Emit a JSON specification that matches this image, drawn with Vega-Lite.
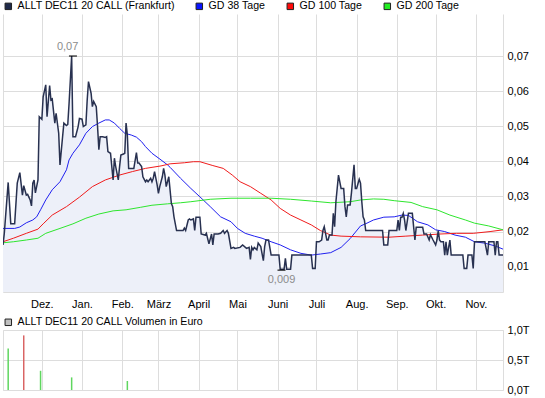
{
  "$schema": "https://vega.github.io/schema/vega-lite/v6.json",
  "background": "white",
  "padding": {"left": 0, "top": 1, "right": 0, "bottom": 0},
  "config": {
    "font": "Liberation Sans",
    "view": {"stroke": null},
    "axis": {"labelFont": "Liberation Sans", "labelFontSize": 11, "labelColor": "#000000", "gridColor": "#dddddd", "gridOpacity": 1, "gridWidth": 1, "domain": false, "ticks": false, "title": null, "labelOverlap": false, "labelFlush": false, "labelBound": false},
    "legend": {"orient": "none", "legendX": 0, "legendY": -13, "direction": "horizontal", "title": null, "symbolType": "square", "symbolSize": 42, "symbolStrokeColor": "#222222", "symbolStrokeWidth": 1, "symbolOpacity": 1, "labelFont": "Liberation Sans", "labelFontSize": 10.6, "labelColor": "#000000", "labelOffset": 4, "labelLimit": 400, "columnPadding": 19, "padding": 0}
  },
  "datasets": {
    "price": [
      {"d":"2010-11-01","v":0.0162},{"d":"2010-11-02","v":0.0195},{"d":"2010-11-05","v":0.034},{"d":"2010-11-07","v":0.0222},{"d":"2010-11-10","v":0.0222},{"d":"2010-11-12","v":0.0338},{"d":"2010-11-14","v":0.0368},{"d":"2010-11-16","v":0.0304},{"d":"2010-11-17","v":0.0331},{"d":"2010-11-19","v":0.0304},{"d":"2010-11-20","v":0.0306},{"d":"2010-11-22","v":0.029},{"d":"2010-11-23","v":0.0273},{"d":"2010-11-24","v":0.0338},{"d":"2010-11-25","v":0.0347},{"d":"2010-11-26","v":0.031},{"d":"2010-11-28","v":0.0347},{"d":"2010-11-29","v":0.0527},
      {"d":"2010-12-01","v":0.052},{"d":"2010-12-02","v":0.0584},{"d":"2010-12-04","v":0.0618},{"d":"2010-12-05","v":0.0527},{"d":"2010-12-07","v":0.0616},{"d":"2010-12-08","v":0.0575},{"d":"2010-12-09","v":0.0578},{"d":"2010-12-11","v":0.0509},{"d":"2010-12-12","v":0.0537},{"d":"2010-12-14","v":0.048},{"d":"2010-12-15","v":0.039},{"d":"2010-12-17","v":0.047},{"d":"2010-12-18","v":0.0509},{"d":"2010-12-20","v":0.0502},{"d":"2010-12-21","v":0.0505},{"d":"2010-12-22","v":0.0565},{"d":"2010-12-24","v":0.07},{"d":"2010-12-25","v":0.047},{"d":"2010-12-27","v":0.047},{"d":"2010-12-29","v":0.0499},{"d":"2010-12-30","v":0.0522},
      {"d":"2011-01-01","v":0.052},{"d":"2011-01-02","v":0.0499},{"d":"2011-01-04","v":0.0504},{"d":"2011-01-05","v":0.0575},{"d":"2011-01-06","v":0.0627},{"d":"2011-01-08","v":0.0594},{"d":"2011-01-09","v":0.0556},{"d":"2011-01-10","v":0.0571},{"d":"2011-01-12","v":0.0556},{"d":"2011-01-13","v":0.0499},{"d":"2011-01-14","v":0.0433},{"d":"2011-01-15","v":0.047},{"d":"2011-01-17","v":0.047},{"d":"2011-01-19","v":0.0468},{"d":"2011-01-20","v":0.047},{"d":"2011-01-21","v":0.0428},{"d":"2011-01-23","v":0.0423},{"d":"2011-01-25","v":0.0347},{"d":"2011-01-26","v":0.0409},{"d":"2011-01-27","v":0.0385},{"d":"2011-01-29","v":0.0347},{"d":"2011-01-30","v":0.0385},{"d":"2011-01-31","v":0.0418},
      {"d":"2011-02-02","v":0.0421},{"d":"2011-02-03","v":0.0423},{"d":"2011-02-04","v":0.0509},{"d":"2011-02-05","v":0.0475},{"d":"2011-02-06","v":0.038},{"d":"2011-02-08","v":0.038},{"d":"2011-02-10","v":0.038},{"d":"2011-02-12","v":0.0425},{"d":"2011-02-13","v":0.0395},{"d":"2011-02-14","v":0.0395},{"d":"2011-02-16","v":0.0385},{"d":"2011-02-17","v":0.0356},{"d":"2011-02-19","v":0.0342},{"d":"2011-02-20","v":0.0347},{"d":"2011-02-21","v":0.0342},{"d":"2011-02-23","v":0.0352},{"d":"2011-02-24","v":0.0342},{"d":"2011-02-25","v":0.0352},{"d":"2011-02-26","v":0.0371},{"d":"2011-02-28","v":0.0333},
      {"d":"2011-03-01","v":0.0309},{"d":"2011-03-02","v":0.0328},{"d":"2011-03-04","v":0.0356},{"d":"2011-03-05","v":0.038},{"d":"2011-03-06","v":0.0361},{"d":"2011-03-07","v":0.0328},{"d":"2011-03-09","v":0.0356},{"d":"2011-03-11","v":0.028},{"d":"2011-03-12","v":0.0271},{"d":"2011-03-13","v":0.0242},{"d":"2011-03-15","v":0.0203},{"d":"2011-03-20","v":0.0203},{"d":"2011-03-21","v":0.021},{"d":"2011-03-22","v":0.0203},{"d":"2011-03-24","v":0.0233},{"d":"2011-03-25","v":0.0236},{"d":"2011-03-26","v":0.0233},{"d":"2011-03-28","v":0.0236},{"d":"2011-03-29","v":0.0203},{"d":"2011-03-30","v":0.0241},
      {"d":"2011-04-02","v":0.0241},{"d":"2011-04-03","v":0.0193},{"d":"2011-04-06","v":0.019},{"d":"2011-04-07","v":0.0195},{"d":"2011-04-09","v":0.0165},{"d":"2011-04-11","v":0.0193},{"d":"2011-04-12","v":0.0162},{"d":"2011-04-13","v":0.0193},{"d":"2011-04-16","v":0.0193},{"d":"2011-04-18","v":0.0195},{"d":"2011-04-20","v":0.0203},{"d":"2011-04-21","v":0.0195},{"d":"2011-04-23","v":0.0203},{"d":"2011-04-24","v":0.0195},{"d":"2011-04-26","v":0.0152},{"d":"2011-04-28","v":0.0155},{"d":"2011-04-29","v":0.0152},
      {"d":"2011-05-03","v":0.0155},{"d":"2011-05-05","v":0.0162},{"d":"2011-05-08","v":0.0152},{"d":"2011-05-10","v":0.0155},{"d":"2011-05-11","v":0.0121},{"d":"2011-05-12","v":0.0155},{"d":"2011-05-13","v":0.0148},{"d":"2011-05-14","v":0.0155},{"d":"2011-05-16","v":0.0148},{"d":"2011-05-17","v":0.0167},{"d":"2011-05-19","v":0.0157},{"d":"2011-05-21","v":0.0117},{"d":"2011-05-22","v":0.0157},{"d":"2011-05-23","v":0.0176},{"d":"2011-05-25","v":0.0176},{"d":"2011-05-27","v":0.0133},
      {"d":"2011-06-02","v":0.0133},{"d":"2011-06-03","v":0.0093},{"d":"2011-06-06","v":0.0093},{"d":"2011-06-07","v":0.0124},{"d":"2011-06-08","v":0.0093},{"d":"2011-06-11","v":0.0093},{"d":"2011-06-12","v":0.0133},{"d":"2011-06-27","v":0.0133},{"d":"2011-06-28","v":0.0095},{"d":"2011-06-30","v":0.0095},
      {"d":"2011-07-01","v":0.0171},{"d":"2011-07-03","v":0.0171},{"d":"2011-07-05","v":0.0176},{"d":"2011-07-06","v":0.0203},{"d":"2011-07-07","v":0.0214},{"d":"2011-07-09","v":0.0176},{"d":"2011-07-10","v":0.0176},{"d":"2011-07-11","v":0.019},{"d":"2011-07-13","v":0.019},{"d":"2011-07-14","v":0.0252},{"d":"2011-07-15","v":0.0214},{"d":"2011-07-16","v":0.0285},{"d":"2011-07-18","v":0.0361},{"d":"2011-07-20","v":0.0323},{"d":"2011-07-22","v":0.0323},{"d":"2011-07-23","v":0.0271},{"d":"2011-07-24","v":0.0242},{"d":"2011-07-25","v":0.0276},{"d":"2011-07-27","v":0.0276},{"d":"2011-07-28","v":0.031},{"d":"2011-07-30","v":0.039},{"d":"2011-07-31","v":0.0323},
      {"d":"2011-08-01","v":0.0323},{"d":"2011-08-03","v":0.0349},{"d":"2011-08-04","v":0.0338},{"d":"2011-08-05","v":0.0285},{"d":"2011-08-06","v":0.0242},{"d":"2011-08-07","v":0.0233},{"d":"2011-08-08","v":0.0203},{"d":"2011-08-21","v":0.0203},{"d":"2011-08-22","v":0.0162},{"d":"2011-08-25","v":0.0162},{"d":"2011-08-26","v":0.0203},
      {"d":"2011-09-01","v":0.0203},{"d":"2011-09-02","v":0.0233},{"d":"2011-09-03","v":0.0203},{"d":"2011-09-04","v":0.0241},{"d":"2011-09-05","v":0.0241},{"d":"2011-09-06","v":0.0252},{"d":"2011-09-07","v":0.0233},{"d":"2011-09-08","v":0.0203},{"d":"2011-09-10","v":0.0252},{"d":"2011-09-13","v":0.0252},{"d":"2011-09-15","v":0.0176},{"d":"2011-09-16","v":0.0212},{"d":"2011-09-21","v":0.0212},{"d":"2011-09-22","v":0.0193},{"d":"2011-09-24","v":0.0193},{"d":"2011-09-26","v":0.0176},{"d":"2011-09-27","v":0.0191},{"d":"2011-09-29","v":0.0176},
      {"d":"2011-10-01","v":0.0162},{"d":"2011-10-02","v":0.0176},{"d":"2011-10-03","v":0.0203},{"d":"2011-10-04","v":0.0176},{"d":"2011-10-05","v":0.0171},{"d":"2011-10-07","v":0.0171},{"d":"2011-10-08","v":0.0133},{"d":"2011-10-09","v":0.0171},{"d":"2011-10-10","v":0.0133},{"d":"2011-10-12","v":0.0176},{"d":"2011-10-13","v":0.0133},{"d":"2011-10-22","v":0.0133},{"d":"2011-10-23","v":0.0095},{"d":"2011-10-25","v":0.0095},{"d":"2011-10-26","v":0.0133},{"d":"2011-10-29","v":0.0133},{"d":"2011-10-30","v":0.0095},{"d":"2011-10-31","v":0.0171},
      {"d":"2011-11-08","v":0.0171},{"d":"2011-11-10","v":0.0133},{"d":"2011-11-11","v":0.0171},{"d":"2011-11-15","v":0.0171},{"d":"2011-11-16","v":0.0133},{"d":"2011-11-17","v":0.0171},{"d":"2011-11-18","v":0.0171},{"d":"2011-11-19","v":0.0133},{"d":"2011-11-22","v":0.0133}
    ],
    "ma": [
      {"s":"GD 38 Tage","d":"2010-11-01","v":0.0209},{"s":"GD 38 Tage","d":"2010-11-10","v":0.0209},{"s":"GD 38 Tage","d":"2010-11-14","v":0.0213},{"s":"GD 38 Tage","d":"2010-11-19","v":0.0225},{"s":"GD 38 Tage","d":"2010-11-24","v":0.0233},{"s":"GD 38 Tage","d":"2010-11-27","v":0.0242},{"s":"GD 38 Tage","d":"2010-11-30","v":0.0262},{"s":"GD 38 Tage","d":"2010-12-04","v":0.029},{"s":"GD 38 Tage","d":"2010-12-09","v":0.0319},{"s":"GD 38 Tage","d":"2010-12-15","v":0.0342},{"s":"GD 38 Tage","d":"2010-12-20","v":0.0376},{"s":"GD 38 Tage","d":"2010-12-22","v":0.0404},{"s":"GD 38 Tage","d":"2010-12-25","v":0.0423},{"s":"GD 38 Tage","d":"2010-12-30","v":0.0447},{"s":"GD 38 Tage","d":"2011-01-04","v":0.048},{"s":"GD 38 Tage","d":"2011-01-09","v":0.0499},{"s":"GD 38 Tage","d":"2011-01-14","v":0.0509},{"s":"GD 38 Tage","d":"2011-01-19","v":0.0518},{"s":"GD 38 Tage","d":"2011-01-22","v":0.0518},{"s":"GD 38 Tage","d":"2011-01-26","v":0.0509},{"s":"GD 38 Tage","d":"2011-01-30","v":0.0494},{"s":"GD 38 Tage","d":"2011-02-03","v":0.048},{"s":"GD 38 Tage","d":"2011-02-08","v":0.0475},{"s":"GD 38 Tage","d":"2011-02-12","v":0.0469},{"s":"GD 38 Tage","d":"2011-02-16","v":0.0456},{"s":"GD 38 Tage","d":"2011-02-19","v":0.0442},{"s":"GD 38 Tage","d":"2011-02-24","v":0.0423},{"s":"GD 38 Tage","d":"2011-03-03","v":0.0404},{"s":"GD 38 Tage","d":"2011-03-08","v":0.039},{"s":"GD 38 Tage","d":"2011-03-10","v":0.0383},{"s":"GD 38 Tage","d":"2011-03-18","v":0.0352},{"s":"GD 38 Tage","d":"2011-03-26","v":0.0323},{"s":"GD 38 Tage","d":"2011-04-02","v":0.0299},{"s":"GD 38 Tage","d":"2011-04-10","v":0.0271},{"s":"GD 38 Tage","d":"2011-04-18","v":0.0242},{"s":"GD 38 Tage","d":"2011-04-26","v":0.0228},{"s":"GD 38 Tage","d":"2011-05-01","v":0.0209},{"s":"GD 38 Tage","d":"2011-05-07","v":0.0195},{"s":"GD 38 Tage","d":"2011-05-14","v":0.0187},{"s":"GD 38 Tage","d":"2011-05-20","v":0.0181},{"s":"GD 38 Tage","d":"2011-05-27","v":0.0171},{"s":"GD 38 Tage","d":"2011-06-03","v":0.0162},{"s":"GD 38 Tage","d":"2011-06-11","v":0.0148},{"s":"GD 38 Tage","d":"2011-06-19","v":0.0138},{"s":"GD 38 Tage","d":"2011-06-27","v":0.0133},{"s":"GD 38 Tage","d":"2011-07-04","v":0.0136},{"s":"GD 38 Tage","d":"2011-07-12","v":0.014},{"s":"GD 38 Tage","d":"2011-07-20","v":0.0155},{"s":"GD 38 Tage","d":"2011-07-27","v":0.018},{"s":"GD 38 Tage","d":"2011-08-04","v":0.0216},{"s":"GD 38 Tage","d":"2011-08-09","v":0.0224},{"s":"GD 38 Tage","d":"2011-08-14","v":0.0233},{"s":"GD 38 Tage","d":"2011-08-22","v":0.0241},{"s":"GD 38 Tage","d":"2011-08-30","v":0.0242},{"s":"GD 38 Tage","d":"2011-09-05","v":0.0247},{"s":"GD 38 Tage","d":"2011-09-10","v":0.0246},{"s":"GD 38 Tage","d":"2011-09-17","v":0.0228},{"s":"GD 38 Tage","d":"2011-09-25","v":0.0219},{"s":"GD 38 Tage","d":"2011-10-01","v":0.0205},{"s":"GD 38 Tage","d":"2011-10-08","v":0.02},{"s":"GD 38 Tage","d":"2011-10-16","v":0.019},{"s":"GD 38 Tage","d":"2011-10-24","v":0.0184},{"s":"GD 38 Tage","d":"2011-10-31","v":0.0171},{"s":"GD 38 Tage","d":"2011-11-08","v":0.0167},{"s":"GD 38 Tage","d":"2011-11-16","v":0.0159},{"s":"GD 38 Tage","d":"2011-11-22","v":0.015},
      {"s":"GD 100 Tage","d":"2010-11-01","v":0.0171},{"s":"GD 100 Tage","d":"2010-11-09","v":0.0181},{"s":"GD 100 Tage","d":"2010-11-19","v":0.0195},{"s":"GD 100 Tage","d":"2010-11-28","v":0.0207},{"s":"GD 100 Tage","d":"2010-12-02","v":0.0222},{"s":"GD 100 Tage","d":"2010-12-09","v":0.0247},{"s":"GD 100 Tage","d":"2010-12-20","v":0.0271},{"s":"GD 100 Tage","d":"2010-12-30","v":0.0298},{"s":"GD 100 Tage","d":"2011-01-09","v":0.0328},{"s":"GD 100 Tage","d":"2011-01-19","v":0.0347},{"s":"GD 100 Tage","d":"2011-01-30","v":0.0361},{"s":"GD 100 Tage","d":"2011-02-09","v":0.0371},{"s":"GD 100 Tage","d":"2011-02-19","v":0.038},{"s":"GD 100 Tage","d":"2011-03-03","v":0.0387},{"s":"GD 100 Tage","d":"2011-03-10","v":0.0393},{"s":"GD 100 Tage","d":"2011-03-21","v":0.0396},{"s":"GD 100 Tage","d":"2011-03-28","v":0.0399},{"s":"GD 100 Tage","d":"2011-04-02","v":0.0399},{"s":"GD 100 Tage","d":"2011-04-12","v":0.0388},{"s":"GD 100 Tage","d":"2011-04-20","v":0.038},{"s":"GD 100 Tage","d":"2011-04-27","v":0.0361},{"s":"GD 100 Tage","d":"2011-05-03","v":0.0342},{"s":"GD 100 Tage","d":"2011-05-11","v":0.0328},{"s":"GD 100 Tage","d":"2011-05-19","v":0.0309},{"s":"GD 100 Tage","d":"2011-05-27","v":0.029},{"s":"GD 100 Tage","d":"2011-06-03","v":0.0266},{"s":"GD 100 Tage","d":"2011-06-11","v":0.0247},{"s":"GD 100 Tage","d":"2011-06-19","v":0.0233},{"s":"GD 100 Tage","d":"2011-06-27","v":0.0219},{"s":"GD 100 Tage","d":"2011-07-04","v":0.0203},{"s":"GD 100 Tage","d":"2011-07-12","v":0.019},{"s":"GD 100 Tage","d":"2011-07-20","v":0.0187},{"s":"GD 100 Tage","d":"2011-08-04","v":0.0185},{"s":"GD 100 Tage","d":"2011-08-26","v":0.0184},{"s":"GD 100 Tage","d":"2011-09-08","v":0.0187},{"s":"GD 100 Tage","d":"2011-09-21","v":0.019},{"s":"GD 100 Tage","d":"2011-10-04","v":0.0193},{"s":"GD 100 Tage","d":"2011-10-17","v":0.0195},{"s":"GD 100 Tage","d":"2011-10-30","v":0.0195},{"s":"GD 100 Tage","d":"2011-11-12","v":0.02},{"s":"GD 100 Tage","d":"2011-11-22","v":0.0205},
      {"s":"GD 200 Tage","d":"2010-11-01","v":0.0168},{"s":"GD 200 Tage","d":"2010-11-09","v":0.0171},{"s":"GD 200 Tage","d":"2010-11-19","v":0.0176},{"s":"GD 200 Tage","d":"2010-11-28","v":0.0181},{"s":"GD 200 Tage","d":"2010-12-04","v":0.0195},{"s":"GD 200 Tage","d":"2010-12-15","v":0.0209},{"s":"GD 200 Tage","d":"2010-12-25","v":0.0222},{"s":"GD 200 Tage","d":"2011-01-04","v":0.0238},{"s":"GD 200 Tage","d":"2011-01-14","v":0.025},{"s":"GD 200 Tage","d":"2011-01-25","v":0.0259},{"s":"GD 200 Tage","d":"2011-02-04","v":0.0262},{"s":"GD 200 Tage","d":"2011-02-15","v":0.0269},{"s":"GD 200 Tage","d":"2011-02-24","v":0.0275},{"s":"GD 200 Tage","d":"2011-03-08","v":0.0279},{"s":"GD 200 Tage","d":"2011-03-18","v":0.0282},{"s":"GD 200 Tage","d":"2011-03-26","v":0.0285},{"s":"GD 200 Tage","d":"2011-04-10","v":0.0292},{"s":"GD 200 Tage","d":"2011-04-26","v":0.0295},{"s":"GD 200 Tage","d":"2011-05-11","v":0.0295},{"s":"GD 200 Tage","d":"2011-05-27","v":0.0295},{"s":"GD 200 Tage","d":"2011-06-11","v":0.0292},{"s":"GD 200 Tage","d":"2011-06-27","v":0.0287},{"s":"GD 200 Tage","d":"2011-07-12","v":0.0282},{"s":"GD 200 Tage","d":"2011-07-27","v":0.0285},{"s":"GD 200 Tage","d":"2011-08-04","v":0.029},{"s":"GD 200 Tage","d":"2011-08-14","v":0.0293},{"s":"GD 200 Tage","d":"2011-08-22","v":0.0292},{"s":"GD 200 Tage","d":"2011-08-30","v":0.0288},{"s":"GD 200 Tage","d":"2011-09-12","v":0.0283},{"s":"GD 200 Tage","d":"2011-09-21","v":0.0271},{"s":"GD 200 Tage","d":"2011-10-02","v":0.0262},{"s":"GD 200 Tage","d":"2011-10-12","v":0.0247},{"s":"GD 200 Tage","d":"2011-10-24","v":0.0233},{"s":"GD 200 Tage","d":"2011-10-31","v":0.0224},{"s":"GD 200 Tage","d":"2011-11-11","v":0.0216},{"s":"GD 200 Tage","d":"2011-11-22","v":0.0205}
    ],
    "legendrows": [
      {"s":"ALLT DEC11 20 CALL (Frankfurt)","d":"2010-11-01","v":0.0162},
      {"s":"GD 38 Tage","d":"2010-11-01","v":0.0209},
      {"s":"GD 100 Tage","d":"2010-11-01","v":0.0171},
      {"s":"GD 200 Tage","d":"2010-11-01","v":0.0168}
    ],
    "vol": [
      {"d":"2010-11-05","v":0.69,"dir":"up"},
      {"d":"2010-11-17","v":0.91,"dir":"down"},
      {"d":"2010-11-30","v":0.32,"dir":"up"},
      {"d":"2010-12-24","v":0.21,"dir":"up"},
      {"d":"2011-02-05","v":0.15,"dir":"up"}
    ]
  },
  "spacing": 38,
  "bounds": "flush",
  "resolve": {
    "scale": {"x": "independent", "y": "independent", "color": "independent", "fill": "independent"},
    "legend": {"color": "independent", "fill": "independent"}
  },
  "vconcat": [
    {
      "width": 500,
      "height": 278,
      "layer": [
        {
          "data": {"name": "price"},
          "mark": {"type": "area", "color": "#edf0f9", "clip": true},
          "encoding": {
            "x": {"field": "d", "type": "temporal",
              "scale": {"type": "utc", "domain": [{"year": 2010, "month": 11, "date": 1, "utc": true}, {"year": 2011, "month": 11, "date": 22, "utc": true}]},
              "axis": {
                "values": [
                  {"year": 2010, "month": 11, "date": 1, "utc": true},
                  {"year": 2010, "month": 12, "date": 1, "utc": true},
                  {"year": 2011, "month": 1, "date": 1, "utc": true},
                  {"year": 2011, "month": 2, "date": 1, "utc": true},
                  {"year": 2011, "month": 3, "date": 1, "utc": true},
                  {"year": 2011, "month": 4, "date": 1, "utc": true},
                  {"year": 2011, "month": 5, "date": 1, "utc": true},
                  {"year": 2011, "month": 6, "date": 1, "utc": true},
                  {"year": 2011, "month": 7, "date": 1, "utc": true},
                  {"year": 2011, "month": 8, "date": 1, "utc": true},
                  {"year": 2011, "month": 9, "date": 1, "utc": true},
                  {"year": 2011, "month": 10, "date": 1, "utc": true},
                  {"year": 2011, "month": 11, "date": 1, "utc": true},
                  {"year": 2011, "month": 11, "date": 22, "utc": true}
                ],
                "tickCount": 30,
                "labelExpr": "utcdate(datum.value) != 1 || (utcyear(datum.value) == 2010 && utcmonth(datum.value) == 10) ? '' : ['Jan.','Feb.','März','April','Mai','Juni','Juli','Aug.','Sep.','Okt.','Nov.','Dez.'][utcmonth(datum.value)]",
                "grid": true, "domain": true, "domainColor": "#dddddd", "labelPadding": 6, "labelOverlap": false, "labelFlush": false
              }
            },
            "y": {"field": "v", "type": "quantitative",
              "scale": {"domain": [0.00279, 0.08197], "nice": false, "zero": false},
              "axis": {"orient": "right", "values": [0.01, 0.02, 0.03, 0.04, 0.05, 0.06, 0.07], "tickCount": 20, "labelExpr": "replace(format(datum.value, '.2f'), '.', ',')", "grid": true, "labelPadding": 4, "labelOverlap": false}
            }
          }
        },
        {
          "data": {"name": "ma"},
          "mark": {"type": "line", "strokeWidth": 1, "clip": true},
          "encoding": {
            "x": {"field": "d", "type": "temporal"},
            "y": {"field": "v", "type": "quantitative"},
            "color": {"field": "s", "type": "nominal", "scale": {"domain": ["GD 38 Tage", "GD 100 Tage", "GD 200 Tage"], "range": ["#2020f0", "#f01c1c", "#2ee62e"]}, "legend": null}
          }
        },
        {
          "data": {"name": "price"},
          "mark": {"type": "line", "color": "#283150", "strokeWidth": 1.5, "clip": true},
          "encoding": {
            "x": {"field": "d", "type": "temporal"},
            "y": {"field": "v", "type": "quantitative"}
          }
        },
        {
          "data": {"name": "legendrows"},
          "mark": {"type": "point", "shape": "square", "filled": true, "opacity": 0},
          "encoding": {
            "x": {"field": "d", "type": "temporal"},
            "y": {"field": "v", "type": "quantitative"},
            "fill": {"field": "s", "type": "nominal", "sort": null,
              "scale": {"domain": ["ALLT DEC11 20 CALL (Frankfurt)", "GD 38 Tage", "GD 100 Tage", "GD 200 Tage"], "range": ["#1f2a4a", "#0a14ff", "#ff0a0a", "#22ee22"]},
              "legend": {}}
          }
        },
        {
          "data": {"values": [{"d": "2010-12-25", "v": 0.07}, {"d": "2011-06-04", "v": 0.009}]},
          "mark": {"type": "tick", "orient": "horizontal", "size": 8, "thickness": 1.5, "color": "#000000"},
          "encoding": {
            "x": {"field": "d", "type": "temporal"},
            "y": {"field": "v", "type": "quantitative"}
          }
        },
        {
          "data": {"values": [{"d": "2010-12-24", "v": 0.07, "t": "0,07"}]},
          "mark": {"type": "text", "dy": -9, "dx": -4, "color": "#8c8c8c", "fontSize": 11},
          "encoding": {
            "x": {"field": "d", "type": "temporal"},
            "y": {"field": "v", "type": "quantitative"},
            "text": {"field": "t"}
          }
        },
        {
          "data": {"values": [{"d": "2011-06-04", "v": 0.009, "t": "0,009"}]},
          "mark": {"type": "text", "dy": 10, "color": "#8c8c8c", "fontSize": 11},
          "encoding": {
            "x": {"field": "d", "type": "temporal"},
            "y": {"field": "v", "type": "quantitative"},
            "text": {"field": "t"}
          }
        }
      ]
    },
    {
      "width": 500,
      "height": 60,
      "view": {"stroke": "#dddddd"},
      "layer": [
        {
          "data": {"name": "vol"},
          "mark": {"type": "rule", "strokeWidth": 1.5},
          "encoding": {
            "x": {"field": "d", "type": "temporal",
              "scale": {"type": "utc", "domain": [{"year": 2010, "month": 11, "date": 1, "utc": true}, {"year": 2011, "month": 11, "date": 22, "utc": true}]},
              "axis": {
                "values": [
                  {"year": 2010, "month": 12, "date": 1, "utc": true},
                  {"year": 2011, "month": 1, "date": 1, "utc": true},
                  {"year": 2011, "month": 2, "date": 1, "utc": true},
                  {"year": 2011, "month": 3, "date": 1, "utc": true},
                  {"year": 2011, "month": 4, "date": 1, "utc": true},
                  {"year": 2011, "month": 5, "date": 1, "utc": true},
                  {"year": 2011, "month": 6, "date": 1, "utc": true},
                  {"year": 2011, "month": 7, "date": 1, "utc": true},
                  {"year": 2011, "month": 8, "date": 1, "utc": true},
                  {"year": 2011, "month": 9, "date": 1, "utc": true},
                  {"year": 2011, "month": 10, "date": 1, "utc": true},
                  {"year": 2011, "month": 11, "date": 1, "utc": true}
                ],
                "tickCount": 30,
                "labels": false, "grid": true
              }
            },
            "y": {"field": "v", "type": "quantitative",
              "scale": {"domain": [0, 1], "nice": false},
              "axis": {"orient": "right", "values": [0, 0.5, 1], "labelExpr": "replace(format(datum.value, '.1f'), '.', ',') + 'T'", "grid": true, "labelPadding": 4, "labelOverlap": false, "tickCount": 5}
            },
            "y2": {"datum": 0},
            "color": {"field": "dir", "type": "nominal", "scale": {"domain": ["up", "down"], "range": ["#5fd65f", "#d96464"]}, "legend": null}
          }
        },
        {
          "data": {"name": "vol"},
          "mark": {"type": "point", "shape": "square", "filled": true, "opacity": 0},
          "encoding": {
            "x": {"field": "d", "type": "temporal"},
            "y": {"field": "v", "type": "quantitative"},
            "fill": {"datum": "ALLT DEC11 20 CALL Volumen in Euro", "type": "nominal", "scale": {"range": ["#c0c0c0"]}, "legend": {}}
          }
        }
      ]
    }
  ]
}
